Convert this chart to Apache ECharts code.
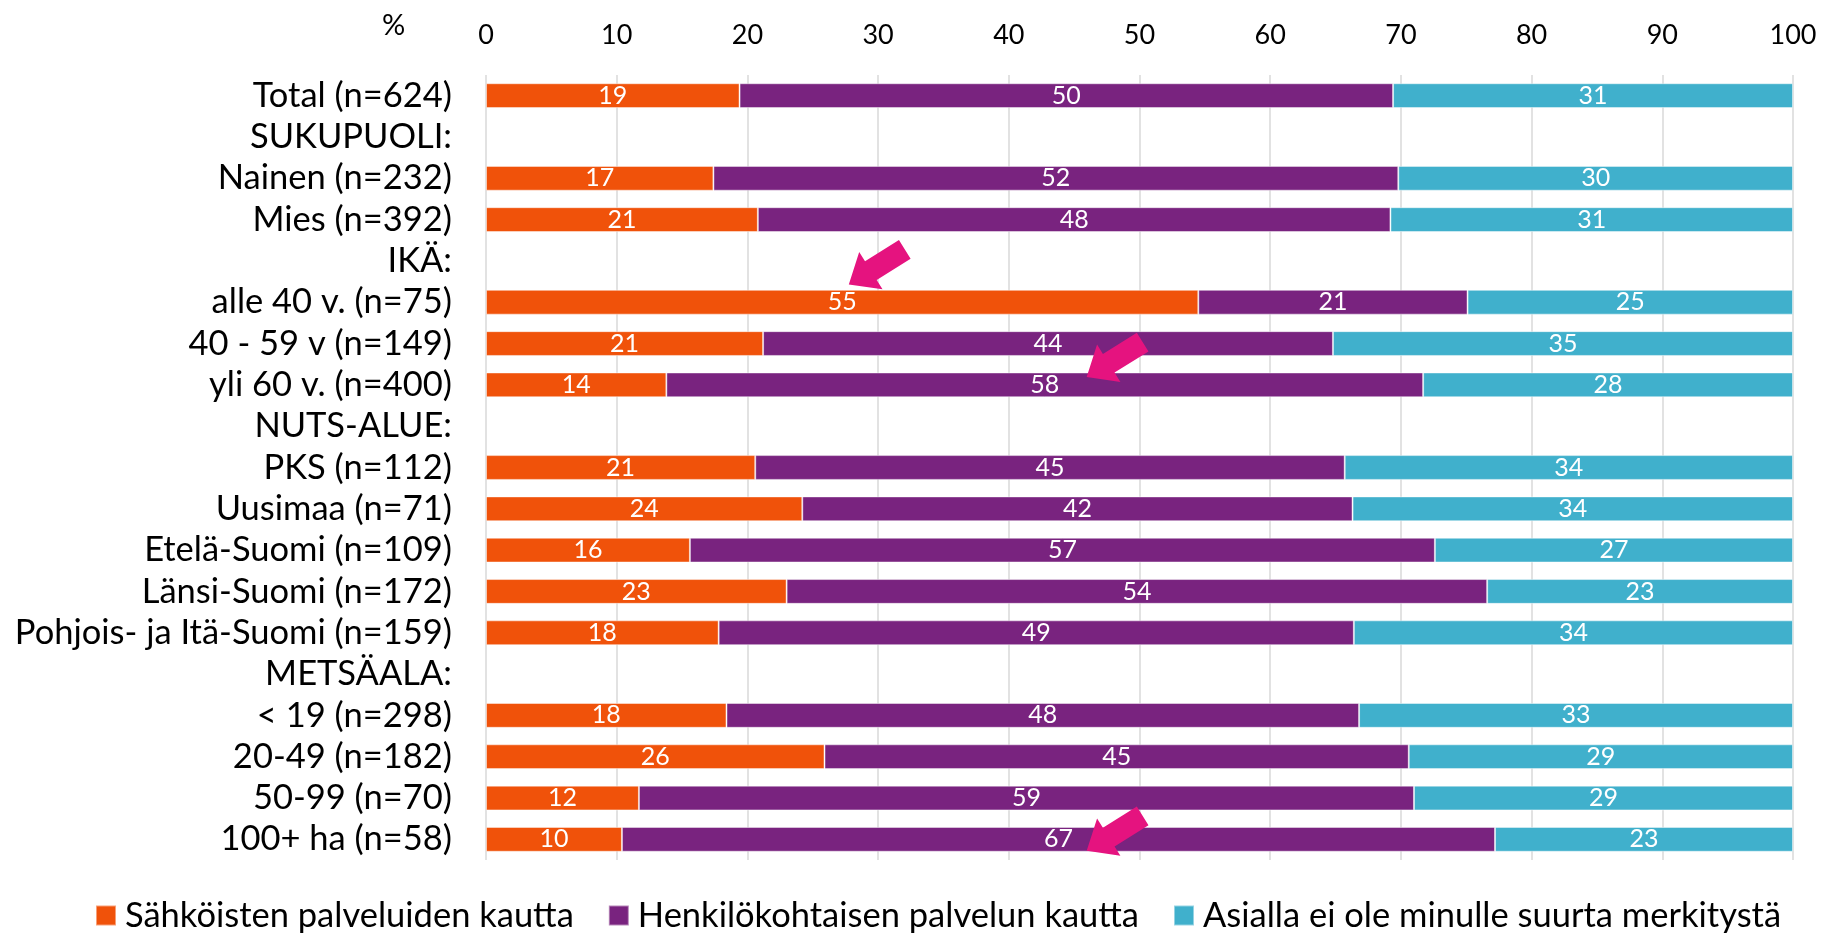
<!DOCTYPE html>
<html>
  <head>
    <meta charset="utf-8" />
    <title>ECharts</title>
    <script src="https://cdn.jsdelivr.net/npm/echarts/dist/echarts.min.js"></script>
  </head>
  <body style="margin:0">
    <div id="main" style="width: 1823px; height: 934px;"></div>
    <script type="text/javascript">
      var myChart = echarts.init(document.getElementById('main'));

      var categorias = ['Total (n=624)', 'SUKUPUOLI:', 'Nainen (n=232)', 'Mies (n=392)', 'IKÄ:',
        'alle 40 v. (n=75)', '40 - 59 v (n=149)', 'yli 60 v. (n=400)', 'NUTS-ALUE:', 'PKS (n=112)',
        'Uusimaa (n=71)', 'Etelä-Suomi (n=109)', 'Länsi-Suomi (n=172)', 'Pohjois- ja Itä-Suomi (n=159)',
        'METSÄALA:', '< 19 (n=298)', '20-49 (n=182)', '50-99 (n=70)', '100+ ha (n=58)'];
      var sahkoiset = [19.4, null, 17.4, 20.8, null, 54.5, 21.2, 13.8, null, 20.6, 24.2, 15.6, 23.0, 17.8, null, 18.4, 25.9, 11.7, 10.4];
      var henkilo = [50.0, null, 52.4, 48.4, null, 20.6, 43.6, 57.9, null, 45.1, 42.1, 57.0, 53.6, 48.6, null, 48.4, 44.7, 59.3, 66.8];
      var asialla = [30.6, null, 30.2, 30.8, null, 24.9, 35.2, 28.3, null, 34.3, 33.7, 27.4, 23.4, 33.6, null, 33.2, 29.4, 29.0, 22.8];
      var sarjat = ['Sähköisten palveluiden kautta', 'Henkilökohtaisen palvelun kautta', 'Asialla ei ole minulle suurta merkitystä'];

      var fontti = 'Lato, sans-serif';
      var nuoli = 'path://M22 0 L44 26 L33 26 L33 66 L11 66 L11 26 L0 26 Z';

      function sarja(nimi, data, vari) {
        return {
          name: nimi,
          type: 'bar',
          stack: 'yht',
          barCategoryGap: '40%',
          data: data,
          itemStyle: { color: vari, borderColor: 'rgba(255,255,255,0.45)', borderWidth: 1 },
          label: {
            show: true,
            position: 'inside',
            color: '#fff',
            fontFamily: fontti,
            fontSize: 25,
            formatter: function (p) { return Math.round(p.value); }
          }
        };
      }

      var s1 = sarja(sarjat[0], sahkoiset, '#f0520a');
      s1.markPoint = {
        symbol: nuoli,
        symbolSize: [44, 66],
        symbolRotate: 122,
        itemStyle: { color: '#e5137f' },
        label: { show: false },
        data: [
          { coord: [29.9, 'IKÄ:'], symbolOffset: [0, 6] },
          { coord: [48.1, '40 - 59 v (n=149)'], symbolOffset: [0, 16] },
          { coord: [48.1, '100+ ha (n=58)'], symbolOffset: [0, -6] }
        ]
      };

      var option = {
        title: {
          text: '%',
          left: 377,
          top: 6,
          textStyle: { fontFamily: fontti, fontSize: 29, fontWeight: 'normal', color: '#000' }
        },
        legend: {
          top: 893,
          left: 90,
          itemWidth: 20,
          itemHeight: 20,
          itemGap: 34,
          icon: 'rect',
          textStyle: { fontFamily: fontti, fontSize: 34.5, color: '#000', padding: [0, 0, 0, 4] },
          data: sarjat
        },
        grid: { left: 486, right: 30, top: 75, bottom: 74 },
        xAxis: {
          type: 'value',
          position: 'top',
          min: 0,
          max: 100,
          interval: 10,
          axisLine: { show: false },
          axisTick: { show: false },
          axisLabel: { fontFamily: fontti, fontSize: 27, color: '#000', margin: 26 },
          splitLine: { lineStyle: { color: '#d9d9d9', width: 1.5 } }
        },
        yAxis: {
          type: 'category',
          inverse: true,
          data: categorias,
          axisLine: { show: false },
          axisTick: { show: false },
          axisLabel: { interval: 0, fontFamily: fontti, fontSize: 34.5, color: '#000', margin: 34 }
        },
        series: [s1, sarja(sarjat[1], henkilo, '#79237f'), sarja(sarjat[2], asialla, '#40b0cc')]
      };

      myChart.setOption(option);
    </script>
  </body>
</html>
